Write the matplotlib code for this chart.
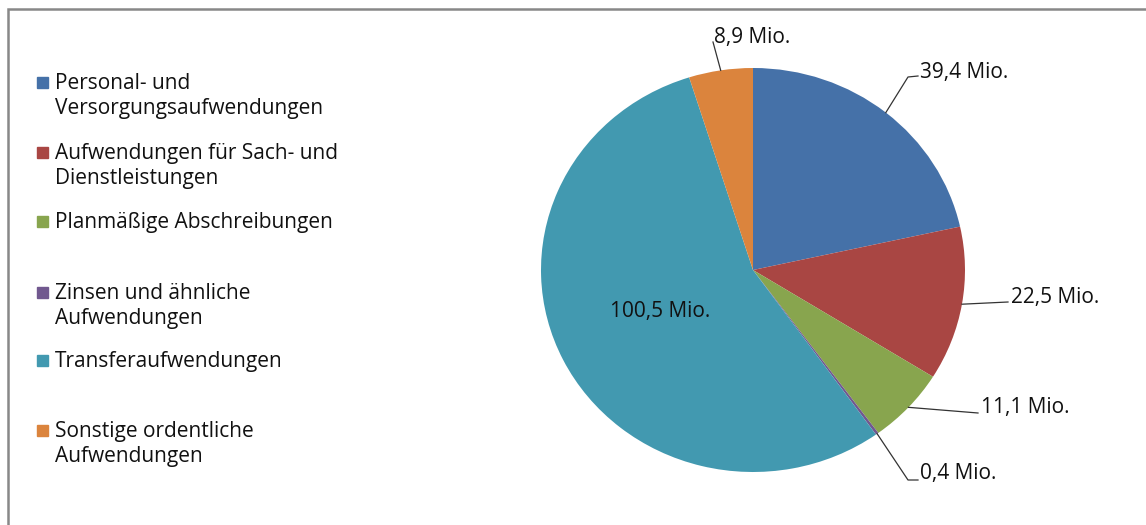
import matplotlib.pyplot as plt
import numpy as np
from matplotlib.patches import Rectangle

categories = ["Personal- und\nVersorgungsaufwendungen",
              "Aufwendungen für Sach- und\nDienstleistungen",
              "Planmäßige Abschreibungen",
              "Zinsen und ähnliche\nAufwendungen",
              "Transferaufwendungen",
              "Sonstige ordentliche\nAufwendungen"]
values = [39.4, 22.5, 11.1, 0.4, 100.5, 8.9]
colors = ["#4571A8", "#A94643", "#88A54E", "#71588F", "#4299B0", "#DB843D"]

plt.rcParams["font.family"] = ["Open Sans", "DejaVu Sans"]

W, H = 1146, 525
fig = plt.figure(figsize=(W / 100, H / 100), dpi=100)

# pie box in pixels (center 753,270; slightly wider than tall like the original)
cx, cy, rx, ry = 753, 270, 212, 202
ax = fig.add_axes([(cx - rx) / W, (H - cy - ry) / H, 2 * rx / W, 2 * ry / H])
wedges, _ = ax.pie(values, colors=colors, startangle=90, counterclock=False,
                   radius=1, wedgeprops=dict(linewidth=0))
ax.set_xlim(-1, 1)
ax.set_ylim(-1, 1)
ax.set_aspect("auto")
ax.axis("off")


def px(x, y):
    return ((x - cx) / rx, (cy - y) / ry)


def fmt(v):
    return f"{v:.1f}".replace(".", ",") + " Mio."


FS = 15

# label text anchor (left, center) and leader elbow, in pixels
label_pos = [(920, 72), (1011, 297), (981, 408), (920, 473), None, (714, 37)]
elbows = [(908, 77), (1008, 302), (978, 413), (908, 480), None, (713, 42)]
ends = [(918, 76), None, None, (918, 480), None, None]

for i, w in enumerate(wedges):
    mid = np.deg2rad((w.theta1 + w.theta2) / 2)
    sx, sy = np.cos(mid), np.sin(mid)
    if label_pos[i] is None:
        ax.text(*px(660, 311), fmt(values[i]), ha="center", va="center",
                fontsize=FS, color="#111111")
        continue
    pts = [(sx, sy), px(*elbows[i])]
    if ends[i] is not None:
        pts.append(px(*ends[i]))
    xs, ys = zip(*pts)
    ax.plot(xs, ys, color="#333333", lw=0.9, clip_on=False)
    ax.text(*px(*label_pos[i]), fmt(values[i]), ha="left", va="center",
            fontsize=FS, color="#111111", clip_on=False)

# manual legend (uneven spacing as in the original)
legend_y = [82, 152, 221, 292, 360, 430]
for lab, col, y in zip(categories, colors, legend_y):
    fig.patches.append(Rectangle((37 / W, (H - y - 6) / H), 11 / W, 11 / H,
                                 transform=fig.transFigure, color=col))
    fig.text(55 / W, (H - y + 9) / H, lab, ha="left", va="top",
             fontsize=FS, color="#111111", linespacing=1.25)

# chart border
fig.patches.append(Rectangle((8 / W, -0.05), 1.1, (H - 9) / H + 0.05,
                             transform=fig.transFigure, fill=False,
                             edgecolor="#888888", lw=1.8))

fig.savefig("out.png", dpi=100)
